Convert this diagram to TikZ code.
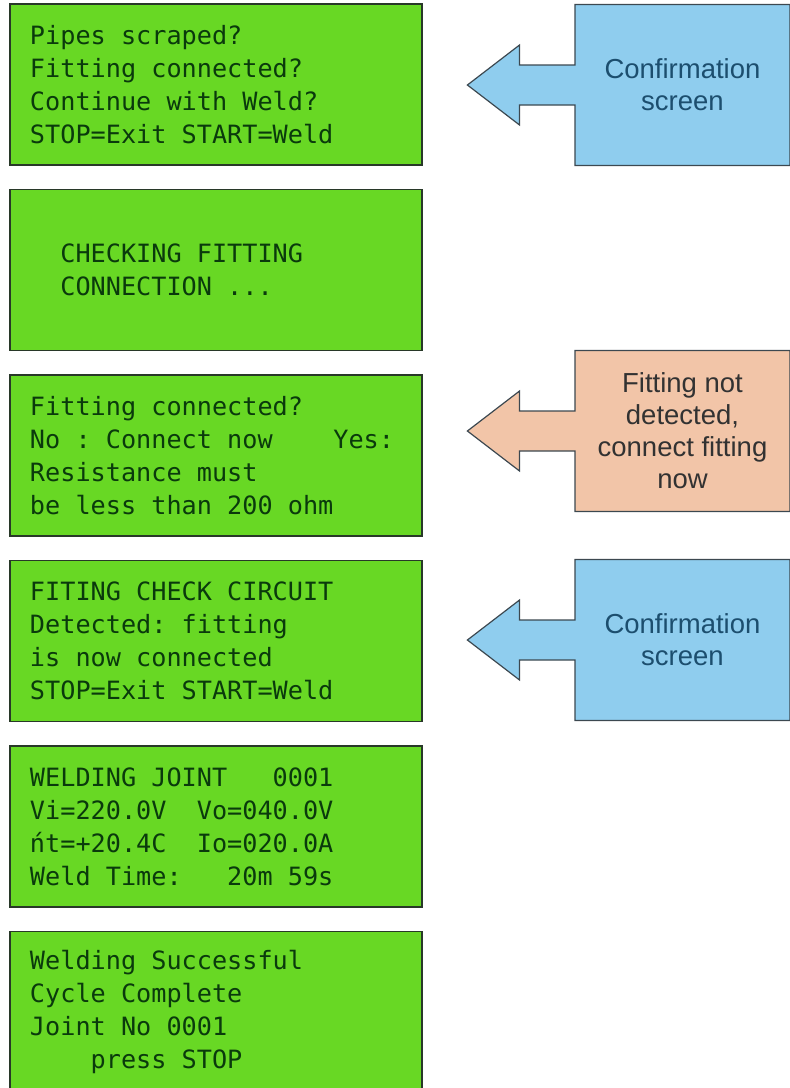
\documentclass[tikz,border=0pt]{standalone}
\usepackage{fontspec}
\setmainfont{Liberation Sans}
\newfontfamily\lcdfont{DejaVu Sans Mono}
\usetikzlibrary{positioning,shapes.arrows}

\definecolor{lcdgreen}{RGB}{104,216,36}
\definecolor{lcdtext}{RGB}{10,58,12}
\definecolor{lcdframe}{RGB}{40,56,40}
\definecolor{infoblue}{RGB}{143,205,238}
\definecolor{infotext}{RGB}{28,78,110}
\definecolor{warnpeach}{RGB}{242,197,168}
\definecolor{warntext}{RGB}{50,50,50}
\definecolor{noteline}{RGB}{60,72,80}

% one space = one character cell, as on the display
\newcommand\lcdspace{\spaceskip=\fontcharwd\font`0\relax\xspaceskip=\spaceskip}

\begin{document}
\begin{tikzpicture}[x=1pt, y=-1pt, node distance=23pt,
  lcd/.style={rectangle, draw=lcdframe, line width=1.5pt, fill=lcdgreen, text=lcdtext,
    minimum width=412pt, minimum height=161pt, text width=372pt, inner xsep=20pt,
    align=left, font=\lcdfont\fontsize{25.2pt}{33pt}\selectfont,
    execute at begin node=\lcdspace},
  note/.style={arrow box, draw=noteline, line width=1.2pt,
    minimum width=215pt, minimum height=161pt,
    align=center, font=\fontsize{27.5pt}{32pt}\selectfont,
    arrow box shaft width=40pt, arrow box head extend=20pt, arrow box tip angle=75,
    arrow box north arrow=0pt, arrow box south arrow=0pt, arrow box east arrow=0pt,
    arrow box west arrow=107pt}]
  \useasboundingbox (0,0) rectangle (790,1088);

  % display screens
  \node[lcd] (s1) at (216,84.5) {Pipes scraped?\\Fitting connected?\\Continue with Weld?\\STOP=Exit START=Weld};
  \node[lcd, below=of s1] (s2) {\hphantom{00}CHECKING FITTING\\\hphantom{00}CONNECTION ...};
  \node[lcd, below=of s2] (s3) {Fitting connected?\\No : Connect now~~~~Yes:\\Resistance must\\be less than 200 ohm};
  \node[lcd, below=of s3] (s4) {FITING CHECK CIRCUIT\\Detected: fitting\\is now connected\\STOP=Exit START=Weld};
  \node[lcd, below=of s4] (s5) {WELDING JOINT~~~0001\\Vi=220.0V~~Vo=040.0V\\ńt=+20.4C~~Io=020.0A\\Weld Time:~~~20m 59s};
  \node[lcd, below=of s5] (s6) {Welding Successful\\Cycle Complete\\Joint No 0001\\\hphantom{0000}press STOP};

  % callouts
  \node[note, fill=infoblue, text=infotext] (c1) at (682.5,85) {Confirmation\\screen};
  \node[note, fill=warnpeach, text=warntext] (c2) at (682.5,431) {Fitting not\\detected,\\connect fitting\\now};
  \node[note, fill=infoblue, text=infotext] (c3) at (682.5,640) {Confirmation\\screen};
\end{tikzpicture}
\end{document}
